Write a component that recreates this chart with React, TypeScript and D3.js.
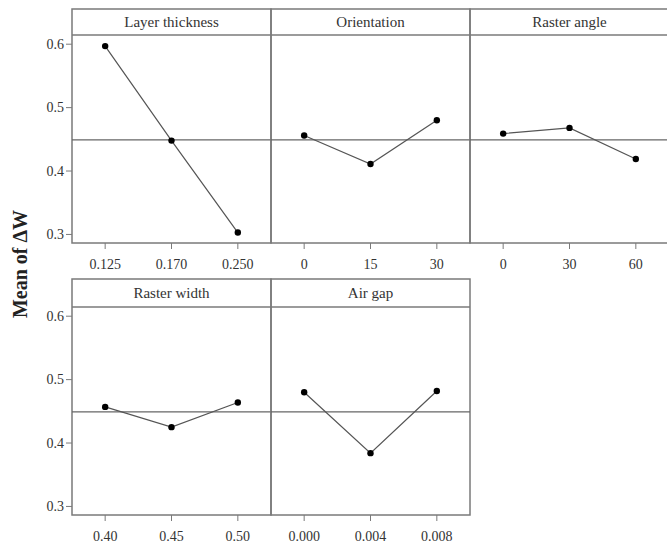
import React from "react";
import * as d3 from "d3";

const factors = ["Layer thickness", "Orientation", "Raster angle", "Raster width", "Air gap"];
const levelLabels = [
  ["0.125", "0.170", "0.250"],
  ["0", "15", "30"],
  ["0", "30", "60"],
  ["0.40", "0.45", "0.50"],
  ["0.000", "0.004", "0.008"],
];
const meansLayer = [0.597, 0.448, 0.303];
const meansOrientation = [0.456, 0.411, 0.480];
const meansRasterAngle = [0.459, 0.468, 0.419];
const meansRasterWidth = [0.457, 0.425, 0.464];
const meansAirGap = [0.480, 0.384, 0.482];
const allMeans = [meansLayer, meansOrientation, meansRasterAngle, meansRasterWidth, meansAirGap];
const grandMean = 0.449;
const yTicks = [0.3, 0.4, 0.5, 0.6];
const yLabel = "Mean of ΔW";

const W = 667;
const H = 544;
const left = 72;
const colW = 199;
const rows = [
  { top: 9, stripBottom: 35, bottom: 243 },
  { top: 279, stripBottom: 307, bottom: 515 },
];
const yDomain: [number, number] = [0.2865, 0.6145];
const border = "#7a7a7a";
const font = "Liberation Serif, Times New Roman, DejaVu Serif, serif";

export default function App() {
  return (
    <svg width={W} height={H} style={{ position: "absolute", left: 0, top: 0, background: "#fff" }}>
      <rect x={0} y={0} width={W} height={H} fill="#fff" />
      {factors.map((name, i) => {
        const r = Math.floor(i / 3);
        const c = i % 3;
        const row = rows[r];
        const x0 = left + c * colW;
        const x1 = x0 + colW;
        const y = d3.scaleLinear().domain(yDomain).range([row.bottom, row.stripBottom]);
        const x = d3
          .scalePoint<string>()
          .domain(levelLabels[i])
          .range([x0, x1])
          .padding(0.5);
        const line = d3
          .line<number>()
          .x((_, k) => x(levelLabels[i][k]) as number)
          .y((d) => y(d));
        return (
          <g key={name}>
            <rect x={x0} y={row.top} width={colW} height={row.bottom - row.top} fill="none" stroke={border} strokeWidth={1.5} />
            <line x1={x0} x2={x1} y1={row.stripBottom} y2={row.stripBottom} stroke={border} strokeWidth={1.5} />
            <text
              x={(x0 + x1) / 2}
              y={(row.top + row.stripBottom) / 2}
              textAnchor="middle"
              dominantBaseline="central"
              style={{ fontFamily: font, fontSize: 15 }}
              fill="#333"
            >
              {name}
            </text>
            <line x1={x0} x2={x1} y1={y(grandMean)} y2={y(grandMean)} stroke="#666" strokeWidth={1.2} />
            {levelLabels[i].map((lab) => (
              <g key={lab}>
                <line x1={x(lab)} x2={x(lab)} y1={row.bottom} y2={row.bottom + 6} stroke={border} strokeWidth={1} />
                <text
                  x={x(lab)}
                  y={row.bottom + 21}
                  textAnchor="middle"
                  dominantBaseline="central"
                  style={{ fontFamily: font, fontSize: 14 }}
                  fill="#333"
                >
                  {lab}
                </text>
              </g>
            ))}
            {c === 0 &&
              yTicks.map((t) => (
                <g key={t}>
                  <line x1={x0 - 6} x2={x0} y1={y(t)} y2={y(t)} stroke={border} strokeWidth={1} />
                  <text
                    x={x0 - 8}
                    y={y(t)}
                    textAnchor="end"
                    dominantBaseline="central"
                    style={{ fontFamily: font, fontSize: 14 }}
                    fill="#333"
                  >
                    {t.toFixed(1)}
                  </text>
                </g>
              ))}
            <path d={line(allMeans[i]) ?? ""} fill="none" stroke="#555" strokeWidth={1.2} />
            {allMeans[i].map((v, k) => (
              <circle key={k} cx={x(levelLabels[i][k])} cy={y(v)} r={3.2} fill="#000" />
            ))}
          </g>
        );
      })}
      <text
        transform={`translate(20, 264) rotate(-90)`}
        textAnchor="middle"
        dominantBaseline="central"
        style={{ fontFamily: font, fontSize: 20, fontWeight: "bold" }}
        fill="#222"
      >
        {yLabel}
      </text>
    </svg>
  );
}
